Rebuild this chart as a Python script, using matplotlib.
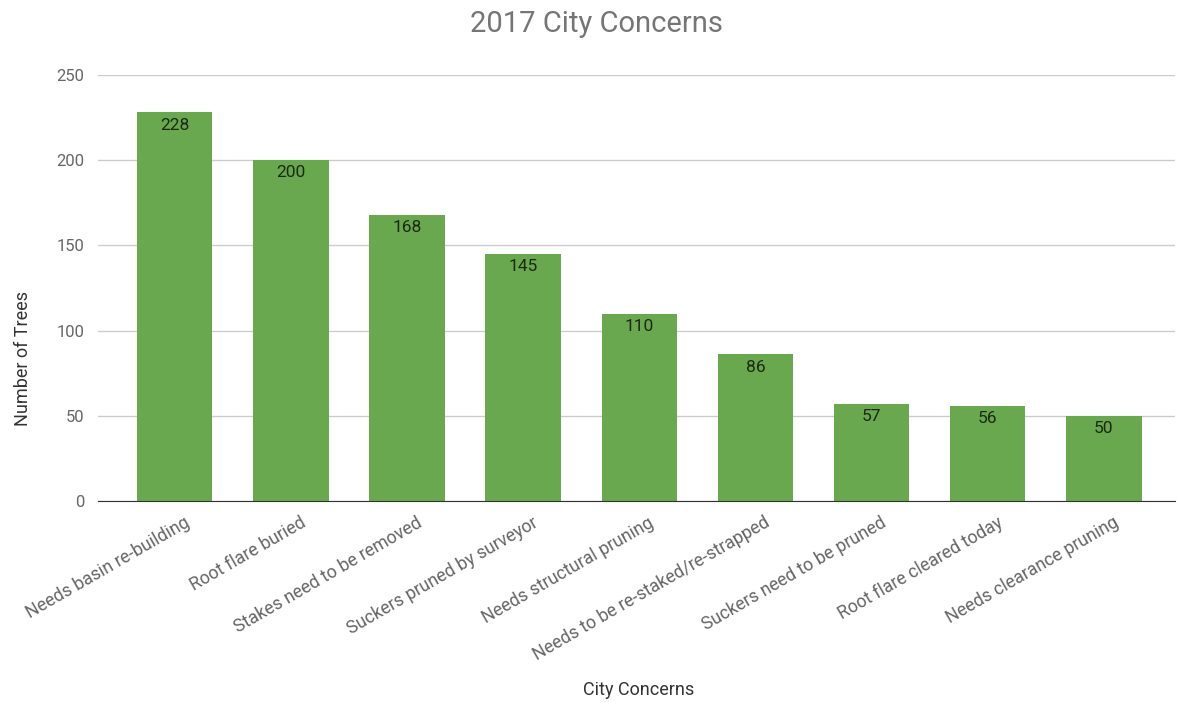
import matplotlib
matplotlib.use('Agg')
import matplotlib.pyplot as plt
import matplotlib.transforms as mtransforms

concerns = ["Needs basin re-building", "Root flare buried", "Stakes need to be removed",
            "Suckers pruned by surveyor", "Needs structural pruning",
            "Needs to be re-staked/re-strapped", "Suckers need to be pruned",
            "Root flare cleared today", "Needs clearance pruning"]
trees = [228, 200, 168, 145, 110, 86, 57, 56, 50]
yticks = [0, 50, 100, 150, 200, 250]

plt.rcParams['font.family'] = ['Roboto', 'DejaVu Sans']

fig = plt.figure(figsize=(11.77, 7.02), dpi=100)
ax = fig.add_axes([0.0833, 0.2863, 0.9147, 0.6069])

x = range(len(concerns))
bars = ax.bar(x, trees, width=0.65, color='#6aa84f', zorder=2)
for b, v in zip(bars, trees):
    ax.text(b.get_x() + b.get_width() / 2, v - 3, str(v), ha='center', va='top',
            fontsize=12.5, color='#1b2a12', zorder=3)

ax.set_xlim(-0.66, 8.61)
ax.set_ylim(0, 250)
ax.set_yticks(yticks)
ax.set_xticks(list(x))
ax.set_xticklabels(concerns, rotation=30, ha='right', rotation_mode='anchor',
                   fontsize=12.8, color='#666666')
ax.tick_params(axis='x', length=0, pad=9)
# shift the rotated labels a little to the right, like the original
offset = mtransforms.ScaledTranslation(9 / 100, 0, fig.dpi_scale_trans)
for lab in ax.get_xticklabels():
    lab.set_transform(lab.get_transform() + offset)
ax.tick_params(axis='y', length=0, pad=10, labelsize=12, labelcolor='#666666')
ax.grid(axis='y', color='#cccccc', linewidth=1, zorder=0)
for s in ['top', 'right', 'left']:
    ax.spines[s].set_visible(False)
ax.spines['bottom'].set_color('#333333')
ax.spines['bottom'].set_zorder(3)

fig.text(0.507, 0.966, "2017 City Concerns", ha='center', va='center', fontsize=21, color='#757575')
fig.text(0.543, 0.017, "City Concerns", ha='center', va='center', fontsize=13, color='#333333')
fig.text(0.012, 0.489, "Number of Trees", ha='left', va='center', rotation=90, fontsize=13, color='#333333')

fig.savefig('out.png', dpi=100)
